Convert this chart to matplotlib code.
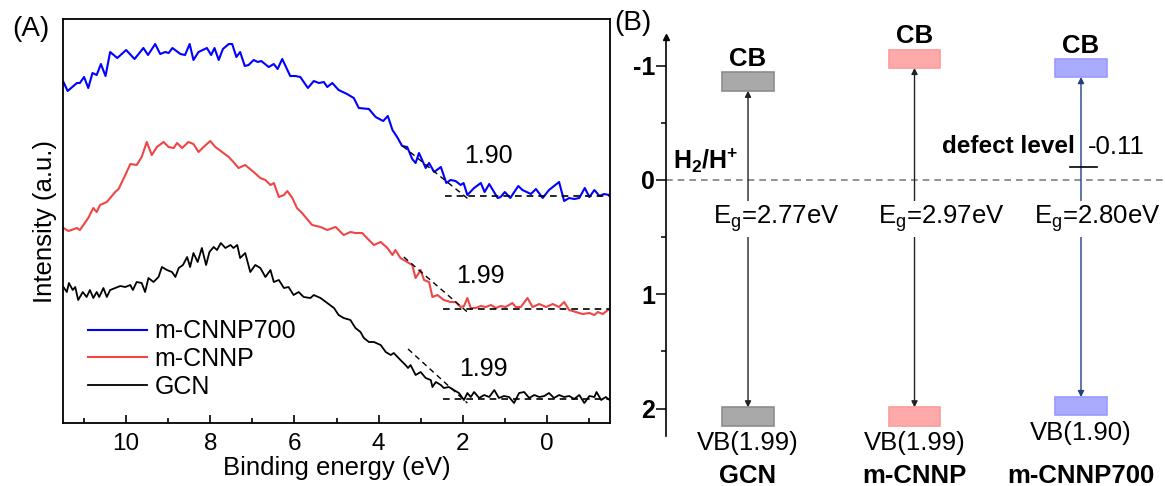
import matplotlib
matplotlib.use("Agg")
import matplotlib.pyplot as plt
import numpy as np
from matplotlib.ticker import MultipleLocator
from matplotlib.patches import Rectangle

plt.rcParams['font.family'] = ['Liberation Sans', 'DejaVu Sans']
plt.rcParams['axes.unicode_minus'] = False
plt.rcParams['mathtext.fontset'] = 'custom'
plt.rcParams['mathtext.rm'] = 'Liberation Sans'
plt.rcParams['mathtext.it'] = 'Liberation Sans'
plt.rcParams['mathtext.bf'] = 'Liberation Sans:bold'
plt.rcParams['mathtext.default'] = 'regular'

# ---- (A) VB-XPS spectra, binding energy (eV) vs intensity (a.u., stacked)
e_cnnp700 = [11.49, 11.39, 11.17, 11.10, 11.00, 10.90, 10.80, 10.70, 10.60, 10.49, 10.38, 10.21, 10.00,
             9.80, 9.59, 9.48, 9.31, 9.19, 9.07, 8.99, 8.90, 8.71, 8.60, 8.49, 8.40, 8.28, 8.08, 7.98,
             7.90, 7.80, 7.70, 7.56, 7.48, 7.38, 7.29, 7.18, 7.09, 6.97, 6.87, 6.79, 6.61, 6.49, 6.40,
             6.29, 6.10, 5.98, 5.86, 5.68, 5.54, 5.42, 5.30, 5.22, 5.10, 4.95, 4.75, 4.59, 4.47, 4.23,
             4.07, 3.89, 3.78, 3.67, 3.56, 3.44, 3.32, 3.20, 3.12, 3.04, 2.88, 2.80, 2.68, 2.52, 2.39,
             2.29, 2.17, 2.05, 1.98, 1.89, 1.73, 1.57, 1.48, 1.37, 1.17, 1.10, 1.00, 0.87, 0.68, 0.58,
             0.38, 0.26, 0.10, -0.05, -0.29, -0.41, -0.53, -0.65, -0.77, -0.90, -1.01, -1.13, -1.25,
             -1.36, -1.48]
i_cnnp700 = [341, 332, 340, 340, 346, 335, 350, 348, 359, 347, 371, 365, 373,
             364, 375, 368, 379, 369, 371, 370, 375, 369, 368, 379, 363, 371, 375, 368,
             375, 363, 374, 379, 379, 366, 371, 357, 358, 363, 361, 362, 356, 359, 354,
             364, 347, 347, 346, 335, 342, 340, 341, 336, 340, 333, 329, 325, 315, 314,
             306, 302, 307, 293, 286, 277, 276, 264, 260, 270, 255, 260, 251, 256, 240,
             243, 242, 238, 240, 228, 235, 240, 231, 239, 225, 226, 231, 225, 237, 233,
             229, 234, 225, 233, 241, 222, 225, 224, 225, 235, 226, 233, 227,
             229, 228]

e_cnnp = [11.49, 11.37, 11.17, 11.10, 10.90, 10.78, 10.70, 10.62, 10.46, 10.26, 10.18, 10.02, 9.90,
          9.75, 9.63, 9.51, 9.39, 9.27, 9.11, 8.99, 8.87, 8.79, 8.67, 8.52, 8.40, 8.28, 8.16, 8.00,
          7.88, 7.72, 7.56, 7.45, 7.33, 7.17, 6.97, 6.81, 6.69, 6.57, 6.49, 6.37, 6.25, 6.17, 6.05,
          5.94, 5.82, 5.70, 5.58, 5.38, 5.22, 5.02, 4.83, 4.67, 4.55, 4.39, 4.23, 4.11, 3.95, 3.79,
          3.67, 3.60, 3.48, 3.32, 3.20, 3.12, 3.00, 2.92, 2.80, 2.72, 2.60, 2.45, 2.29, 2.17, 2.05,
          1.97, 1.89, 1.81, 1.69, 1.57, 1.45, 1.33, 1.21, 1.10, 0.98, 0.82, 0.74, 0.62, 0.46, 0.34,
          0.18, 0.02, -0.14, -0.29, -0.41, -0.53, -0.69, -0.85, -1.01, -1.13, -1.21, -1.33, -1.45,
          -1.52]
i_cnnp = [195, 192, 195, 193, 205, 215, 211, 218, 221, 231, 234, 248, 259,
          258, 266, 281, 268, 276, 281, 276, 275, 280, 275, 281, 279, 271, 276, 282,
          276, 271, 266, 261, 255, 258, 251, 245, 243, 238, 240, 226, 228, 232, 225,
          215, 210, 204, 198, 196, 193, 196, 188, 191, 190, 190, 183, 178, 181, 175,
          168, 173, 165, 161, 158, 145, 153, 143, 141, 126, 128, 123, 121, 121, 116,
          117, 125, 115, 115, 117, 116, 118, 115, 117, 116, 120, 116, 116, 125, 116,
          119, 116, 119, 116, 121, 113, 111, 109, 110, 108, 111, 109, 113,
          114]

e_gcn = [11.49, 11.41, 11.36, 11.27, 11.21, 11.14, 11.03, 10.94, 10.86, 10.78, 10.70, 10.64, 10.54,
         10.46, 10.38, 10.26, 10.14, 10.02, 9.90, 9.84, 9.75, 9.63, 9.55, 9.47, 9.35, 9.23, 9.15,
         9.03, 8.91, 8.83, 8.75, 8.65, 8.55, 8.48, 8.40, 8.30, 8.20, 8.10, 8.02, 7.92, 7.84, 7.75,
         7.64, 7.52, 7.45, 7.36, 7.29, 7.17, 7.05, 6.93, 6.81, 6.69, 6.57, 6.49, 6.37, 6.25, 6.14,
         6.02, 5.90, 5.78, 5.62, 5.54, 5.38, 5.22, 5.06, 4.95, 4.83, 4.67, 4.55, 4.43, 4.35, 4.23,
         4.11, 3.95, 3.83, 3.71, 3.64, 3.48, 3.36, 3.30, 3.24, 3.12, 3.00, 2.88, 2.76, 2.72, 2.64,
         2.52, 2.45, 2.33, 2.21, 2.09, 1.97, 1.89, 1.81, 1.73, 1.61, 1.49, 1.37, 1.25, 1.14, 1.02,
         0.90, 0.78, 0.66, 0.54, 0.42, 0.30, 0.18, 0.06, -0.05, -0.17, -0.29, -0.41, -0.53, -0.65,
         -0.77, -0.89, -1.01, -1.13, -1.18, -1.29, -1.40, -1.52]
i_gcn = [136, 131, 140, 133, 136, 123, 131, 126, 133, 125, 131, 126, 135,
         126, 133, 135, 137, 136, 138, 133, 141, 140, 131, 145, 141, 146, 156,
         153, 151, 146, 155, 158, 166, 156, 170, 161, 175, 158, 171, 176, 173, 180,
         175, 178, 175, 178, 165, 170, 151, 158, 155, 146, 153, 141, 143, 135, 136,
         128, 131, 126, 125, 128, 125, 120, 115, 108, 105, 103, 95, 91, 85, 81,
         81, 78, 71, 68, 70, 63, 58, 55, 58, 48, 51, 45, 43, 36, 41,
         38, 35, 36, 33, 30, 23, 30, 26, 31, 25, 28, 26, 33, 25, 27,
         26, 20, 30, 31, 25, 28, 26, 27, 30, 25, 28, 26, 27, 24,
         28, 20, 27, 26, 31, 23, 26, 22]

# onset construction: tangent (two points) and flat baseline (two points)
tan_e = [[3.43, 1.81], [3.40, 1.89], [3.30, 1.89]]
tan_i = [[277, 222], [166, 111], [74, 20]]
base_e = [[2.43, -1.52], [2.48, -1.52], [2.48, -1.52]]
base_i = [227, 114, 24]
onset_txt = ['1.90', '1.99', '1.99']
onset_pos = [(1.38, 267), (1.57, 147), (1.51, 54)]

# ---- (B) band structure
samples = ['GCN', 'm-CNNP', 'm-CNNP700']
vb = np.array([1.99, 1.99, 1.90])
eg = np.array([2.77, 2.97, 2.80])
cb = vb - eg
defect = -0.11
box_face = ['#a9a9a9', '#ffaaaa', '#aaaaff']
box_edge = ['#8c8c8c', '#ff9a9a', '#9a9aff']
arrow_col = ['#222222', '#222222', '#1f3f80']

fig = plt.figure(figsize=(11.65, 4.86), dpi=100)

# ---------------- panel A
axA = fig.add_axes([0.0541, 0.1296, 0.4695, 0.8313])
axA.plot(e_cnnp700, i_cnnp700, color='#0000ff', lw=1.5, label='m-CNNP700')
axA.plot(e_cnnp, i_cnnp, color='#f04545', lw=1.5, label='m-CNNP')
axA.plot(e_gcn, i_gcn, color='black', lw=1.3, label='GCN')
for k in range(3):
    axA.plot(tan_e[k], tan_i[k], color='black', ls=(0, (4, 3)), lw=1.0)
    axA.plot(base_e[k], [base_i[k]] * 2, color='black', ls=(0, (4, 3)), lw=1.2)
    axA.text(onset_pos[k][0], onset_pos[k][1], onset_txt[k], fontsize=18,
             ha='center', va='center')
axA.set_xlim(11.5, -1.5)
axA.set_ylim(0, 404)
axA.set_yticks([])
axA.xaxis.set_major_locator(MultipleLocator(2))
axA.xaxis.set_minor_locator(MultipleLocator(1))
axA.tick_params(axis='x', which='major', direction='in', length=6, width=1.2,
                labelsize=17.5, pad=7)
axA.tick_params(axis='x', which='minor', direction='in', length=3.5, width=1.2)
for s in axA.spines.values():
    s.set_linewidth(1.3)
axA.set_xlabel('Binding energy (eV)', fontsize=18.5, labelpad=1)
axA.set_ylabel('Intensity (a.u.)', fontsize=18.5, labelpad=4)
axA.legend(loc='center left', bbox_to_anchor=(0.046, 0.158), frameon=False,
           fontsize=18, handlelength=2.35, handletextpad=0.3, labelspacing=0.15,
           borderpad=0, borderaxespad=0)
fig.text(31 / 1165, 1 - 29 / 486, '(A)', fontsize=20, ha='center', va='center')

# ---------------- panel B
axB = fig.add_axes([0.5717, 0.1029, 0.4283, 0.8210])
axB.set_xlim(-0.4925, 2.5045)
axB.set_ylim(2.24, -1.25)
for s in ['top', 'right', 'bottom']:
    axB.spines[s].set_visible(False)
axB.spines['left'].set_linewidth(1.2)
axB.set_xticks([])
axB.set_yticks([-1, 0, 1, 2])
axB.yaxis.set_minor_locator(MultipleLocator(0.5))
axB.tick_params(axis='y', which='major', direction='out', length=7, width=1.1,
                labelsize=18, pad=1)
axB.tick_params(axis='y', which='minor', direction='out', length=3.5, width=1.1)
for t in axB.get_yticklabels():
    t.set_fontweight('bold')
axB.plot([0], [1], marker='^', ms=5, color='black', transform=axB.transAxes, clip_on=False)

axB.axhline(0, color='#808080', ls=(0, (4, 3)), lw=1.2, zorder=1)

bw = 0.31
bh = 0.16
eg_dx = [-0.21, -0.22, -0.28]
for k in range(3):
    # CB and VB boxes
    axB.add_patch(Rectangle((k - bw / 2, cb[k] - bh), bw, bh, facecolor=box_face[k],
                            edgecolor=box_edge[k], lw=1.2, zorder=3))
    axB.add_patch(Rectangle((k - bw / 2, vb[k]), bw, bh, facecolor=box_face[k],
                            edgecolor=box_edge[k], lw=1.2, zorder=3))
    axB.annotate('', xy=(k, vb[k]), xytext=(k, cb[k]),
                 arrowprops=dict(arrowstyle='<|-|>', color=arrow_col[k], lw=1.0,
                                 mutation_scale=9, shrinkA=0, shrinkB=0), zorder=2)
    axB.text(k + eg_dx[k], 0.34, '$E_g$=%.2feV' % eg[k], fontsize=18.5,
             ha='left', va='center', zorder=4,
             bbox=dict(facecolor='white', edgecolor='none', pad=2))
    axB.text(k, cb[k] - bh - 0.01, 'CB', fontsize=18.5, fontweight='bold',
             ha='center', va='bottom')
    axB.text(k, vb[k] + bh + 0.05, 'VB(%.2f)' % vb[k], fontsize=18.5,
             ha='center', va='top', clip_on=False)
    axB.text(k, 2.59, samples[k], fontsize=18.5, fontweight='bold',
             ha='center', va='center', clip_on=False)

axB.text(-0.45, -0.165, r'$\mathbf{H_2/H^{+}}$', fontsize=18,
         ha='left', va='center')
axB.plot([1.934, 2.096], [defect, defect], color='black', lw=1.2)
axB.text(1.964, -0.29, 'defect level', fontsize=17.5, fontweight='bold',
         ha='right', va='center')
axB.text(2.042, -0.29, '%.2f' % defect, fontsize=18.5, ha='left', va='center')
fig.text(633 / 1165, 1 - 23 / 486, '(B)', fontsize=20, ha='center', va='center')

fig.savefig('out.png', dpi=100)
